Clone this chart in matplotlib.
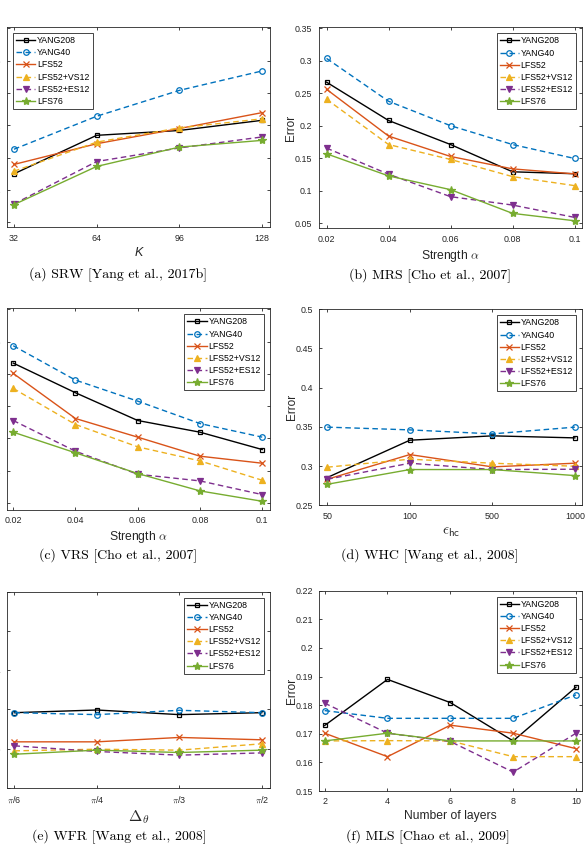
import numpy as np
import matplotlib
matplotlib.use('Agg')
import matplotlib.pyplot as plt

plt.rcParams['font.family'] = ['Liberation Sans', 'DejaVu Sans']
plt.rcParams['mathtext.fontset'] = 'cm'

# series order used in every panel
methods = ['YANG208', 'YANG40', 'LFS52', 'LFS52+VS12', 'LFS52+ES12', 'LFS76']

# (a) SRW
srw_x = [32, 64, 96, 128]
srw = [[0.125, 0.1845, 0.192, 0.2077],
       [0.163, 0.214, 0.254, 0.284],
       [0.1395, 0.1715, 0.195, 0.2196],
       [0.129, 0.174, 0.196, 0.210],
       [0.0784, 0.144, 0.165, 0.182],
       [0.0774, 0.1364, 0.1663, 0.1767]]

# (b) MRS
mrs_x = [0.02, 0.04, 0.06, 0.08, 0.1]
mrs = [[0.267, 0.208, 0.171, 0.129, 0.126],
       [0.3036, 0.2376, 0.200, 0.171, 0.1495],
       [0.256, 0.184, 0.1526, 0.1335, 0.1258],
       [0.2407, 0.171, 0.148, 0.1216, 0.1077],
       [0.1655, 0.1253, 0.0907, 0.0778, 0.0588],
       [0.1567, 0.1227, 0.1015, 0.065, 0.0536]]

# (c) VRS
vrs_x = [0.02, 0.04, 0.06, 0.08, 0.1]
vrs = [[0.2667, 0.2207, 0.1777, 0.1596, 0.1327],
       [0.2936, 0.2403, 0.2077, 0.173, 0.1519],
       [0.2507, 0.1808, 0.1519, 0.1224, 0.1115],
       [0.2274, 0.1715, 0.1369, 0.1151, 0.0851],
       [0.1777, 0.1301, 0.0944, 0.0841, 0.0629],
       [0.1596, 0.1276, 0.0955, 0.0686, 0.0525]]

# (d) WHC
whc_labels = ['50', '100', '500', '1000']
whc = [[0.2854, 0.333, 0.3386, 0.336],
       [0.3497, 0.3462, 0.3411, 0.3497],
       [0.2832, 0.3147, 0.299, 0.3037],
       [0.2986, 0.3088, 0.3037, 0.2998],
       [0.2832, 0.3037, 0.2956, 0.296],
       [0.2768, 0.2956, 0.2956, 0.2879]]

# (e) WFR
wfr_labels = [r'$\pi$/6', r'$\pi$/4', r'$\pi$/3', r'$\pi$/2']
wfr = [[0.3457, 0.3491, 0.3432, 0.3457],
       [0.3457, 0.3432, 0.3487, 0.3457],
       [0.3085, 0.3085, 0.3141, 0.3111],
       [0.297, 0.2991, 0.2979, 0.306],
       [0.3034, 0.2962, 0.2915, 0.2944],
       [0.2927, 0.2979, 0.2949, 0.2979]]

# (f) MLS
mls_x = [2, 4, 6, 8, 10]
mls = [[0.1729, 0.189, 0.1809, 0.1675, 0.1863],
       [0.1781, 0.1754, 0.1754, 0.1754, 0.1836],
       [0.1702, 0.162, 0.173, 0.1702, 0.1648],
       [0.1675, 0.1676, 0.1675, 0.162, 0.162],
       [0.1807, 0.1702, 0.1673, 0.1566, 0.1702],
       [0.1675, 0.1702, 0.1675, 0.1675, 0.1675]]

colors = ['#000000', '#0072BD', '#D95319', '#EDB120', '#7E2F8E', '#77AC30']
markers = ['s', 'o', 'x', '^', 'v', '*']
dashed = [False, True, False, True, True, False]
msizes = [3.5, 4, 4, 4, 4, 6]
filled = [False, False, False, True, True, True]

GRAY = '#262626'
W, H = 586, 847


def make_axes(fig, l, t, r, b):
    return fig.add_axes([l / W, 1 - b / H, (r - l) / W, (b - t) / H])


def draw(ax, x, data, legend_loc):
    for i, name in enumerate(methods):
        kw = dict(color=colors[i], marker=markers[i], ms=msizes[i], lw=1.0,
                  mec=colors[i], mew=0.9, label=name)
        kw['mfc'] = colors[i] if filled[i] else 'none'
        if dashed[i]:
            kw['ls'] = (0, (4, 2.5))
        ax.plot(x, data[i], **kw)
    ax.tick_params(direction='in', length=2.5, width=0.6, labelsize=6.4,
                   colors=GRAY, labelcolor=GRAY, pad=4.5,
                   top=True, right=True)
    for s in ax.spines.values():
        s.set_color(GRAY)
        s.set_linewidth(0.6)
    leg = ax.legend(loc=legend_loc, fontsize=6.3, handlelength=2.2,
                    handletextpad=0.2, labelspacing=0.36, borderpad=0.35,
                    borderaxespad=0.7, fancybox=False, framealpha=1)
    leg.get_frame().set_edgecolor(GRAY)
    leg.get_frame().set_linewidth(0.6)
    ax.set_ylabel('Error', fontsize=8.5, color=GRAY)
    ax.yaxis.set_label_coords(-0.08, 0.5)


fig = plt.figure(figsize=(W / 100, H / 100), dpi=100)

y_lo = [0.05, 0.1, 0.15, 0.2, 0.25, 0.3, 0.35]
y_lo_lab = ['0.05', '0.1', '0.15', '0.2', '0.25', '0.3', '0.35']
y_hi = [0.25, 0.3, 0.35, 0.4, 0.45, 0.5]
y_hi_lab = ['0.25', '0.3', '0.35', '0.4', '0.45', '0.5']
alpha_lab = ['0.02', '0.04', '0.06', '0.08', '0.1']

# (a)
ax = make_axes(fig, 7, 27, 270, 227.5)
draw(ax, srw_x, srw, 'upper left')
ax.set_xlim(29.3, 131.1)
ax.set_ylim(0.042, 0.352)
ax.set_xticks(srw_x)
ax.set_yticks(y_lo, y_lo_lab)
ax.set_xlabel('K', fontsize=9, style='italic', color=GRAY, labelpad=3)

# (b)
ax = make_axes(fig, 318.5, 27.3, 582.3, 228.3)
draw(ax, mrs_x, mrs, 'upper right')
ax.set_xlim(0.0174, 0.1025)
ax.set_ylim(0.042, 0.3515)
ax.set_xticks(mrs_x, alpha_lab)
ax.set_yticks(y_lo, y_lo_lab)
ax.set_xlabel(r'Strength $\alpha$', fontsize=8.7, color=GRAY, labelpad=3)

# (c)
ax = make_axes(fig, 7, 308.3, 270, 510)
draw(ax, vrs_x, vrs, 'upper right')
ax.set_xlim(0.018, 0.1025)
ax.set_ylim(0.039, 0.3516)
ax.set_xticks(vrs_x, alpha_lab)
ax.set_yticks(y_lo, y_lo_lab)
ax.set_xlabel(r'Strength $\alpha$', fontsize=8.7, color=GRAY, labelpad=3)

# (d)
ax = make_axes(fig, 319, 309.3, 582.3, 505.3)
xc = np.arange(1, len(whc_labels) + 1)
draw(ax, xc, whc, 'upper right')
ax.set_xlim(0.9, 4.09)
ax.set_ylim(0.25, 0.5)
ax.set_xticks(xc, whc_labels)
ax.set_yticks(y_hi, y_hi_lab)
ax.set_xlabel(r'$\epsilon_{\mathsf{hc}}$', fontsize=11, color=GRAY, labelpad=3)

# (e)
ax = make_axes(fig, 7, 591.7, 270, 787.7)
xc = np.arange(1, len(wfr_labels) + 1)
draw(ax, xc, wfr, 'upper right')
ax.set_xlim(0.91, 4.1)
ax.set_ylim(0.25, 0.5)
ax.set_xticks(xc, wfr_labels)
ax.set_yticks(y_hi, y_hi_lab)
ax.set_xlabel(r'$\Delta_\theta$', fontsize=11.5, color=GRAY, labelpad=3)

# (f)
ax = make_axes(fig, 319, 590.7, 582.3, 791)
draw(ax, mls_x, mls, 'upper right')
ax.set_xlim(1.82, 10.2)
ax.set_ylim(0.15, 0.22)
ax.set_xticks(mls_x)
yt = [0.15, 0.16, 0.17, 0.18, 0.19, 0.2, 0.21, 0.22]
ax.set_yticks(yt, ['0.15', '0.16', '0.17', '0.18', '0.19', '0.2', '0.21', '0.22'])
ax.set_xlabel('Number of layers', fontsize=8.7, color=GRAY, labelpad=3)

captions = [(118, 275, '(a) SRW [Yang et al., 2017b]'),
            (430, 276, '(b) MRS [Cho et al., 2007]'),
            (118, 556, '(c) VRS [Cho et al., 2007]'),
            (430, 556, '(d) WHC [Wang et al., 2008]'),
            (119, 837, '(e) WFR [Wang et al., 2008]'),
            (428, 837, '(f) MLS [Chao et al., 2009]')]
for cx, cy, txt in captions:
    fig.text(cx / W, 1 - cy / H, txt, family='cmr10', fontsize=10,
             ha='center', va='center')

fig.savefig('out.png', dpi=100)
